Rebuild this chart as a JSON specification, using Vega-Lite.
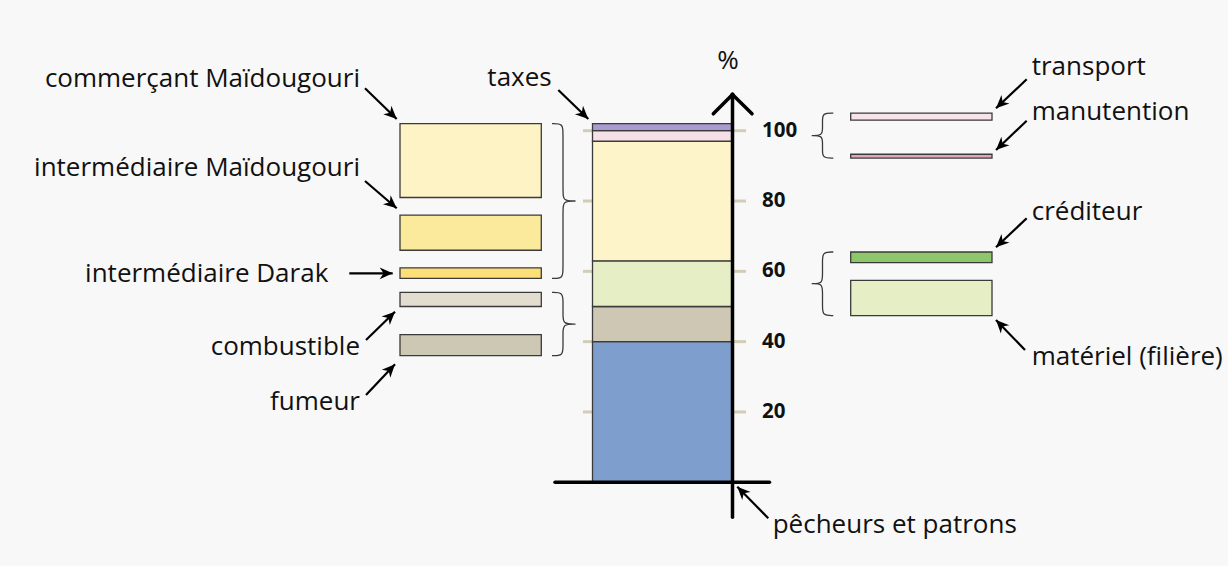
{
  "$schema": "https://vega.github.io/schema/vega-lite/v6.json",
  "width": 1228,
  "height": 566,
  "autosize": {"type": "fit", "contains": "padding"},
  "padding": 0,
  "background": "#f8f8f8",
  "config": {"view": {"stroke": null}},
  "datasets": {
    "blocs": [
      {"poste": "pêcheurs et patrons", "cat": "pêcheurs", "x0": 592.5, "x1": 732.5, "bas": 0, "haut": 40},
      {"poste": "fumeur + combustible", "cat": "transformation", "x0": 592.5, "x1": 732.5, "bas": 40, "haut": 50},
      {"poste": "matériel + créditeur", "cat": "filière", "x0": 592.5, "x1": 732.5, "bas": 50, "haut": 63},
      {"poste": "commerce", "cat": "commerce", "x0": 592.5, "x1": 732.5, "bas": 63, "haut": 97},
      {"poste": "transport + manutention", "cat": "acheminement", "x0": 592.5, "x1": 732.5, "bas": 97, "haut": 100},
      {"poste": "taxes", "cat": "taxes", "x0": 592.5, "x1": 732.5, "bas": 100, "haut": 102},
      {"poste": "commerçant Maïdougouri", "cat": "commerçant Maïdougouri", "x0": 400, "x1": 541.3, "bas": 81, "haut": 102},
      {"poste": "intermédiaire Maïdougouri", "cat": "intermédiaire Maïdougouri", "x0": 400, "x1": 541.3, "bas": 66, "haut": 76},
      {"poste": "intermédiaire Darak", "cat": "intermédiaire Darak", "x0": 400, "x1": 541.3, "bas": 58, "haut": 61},
      {"poste": "combustible", "cat": "combustible", "x0": 400, "x1": 541.3, "bas": 50, "haut": 54},
      {"poste": "fumeur", "cat": "fumeur", "x0": 400, "x1": 541.3, "bas": 36, "haut": 42},
      {"poste": "transport", "cat": "transport", "x0": 850.7, "x1": 992, "bas": 103, "haut": 105},
      {"poste": "manutention", "cat": "manutention", "x0": 850.7, "x1": 992, "bas": 92.2, "haut": 93.3},
      {"poste": "créditeur", "cat": "créditeur", "x0": 850.7, "x1": 992, "bas": 62.5, "haut": 65.5},
      {"poste": "matériel (filière)", "cat": "matériel", "x0": 850.7, "x1": 992, "bas": 47.4, "haut": 57.4}
    ],
    "graduations": [{"v": 20}, {"v": 40}, {"v": 60}, {"v": 80}, {"v": 100}],
    "axes": [
      {"x": 732.5, "y": -9.95, "x2": 732.5, "y2": 110.35},
      {"x": 555, "y": 0, "x2": 769.5, "y2": 0},
      {"x": 713.3, "y": 104.8, "x2": 732.8, "y2": 110.35},
      {"x": 752, "y": 104.8, "x2": 732.2, "y2": 110.35}
    ],
    "fleches": [
      {"cible": "commerçant Maïdougouri", "x": 365, "y": 112.06, "x2": 396.7, "y2": 103.33},
      {"cible": "intermédiaire Maïdougouri", "x": 365, "y": 85.69, "x2": 396.7, "y2": 77.93},
      {"cible": "intermédiaire Darak", "x": 349.3, "y": 59.44, "x2": 392.7, "y2": 59.44},
      {"cible": "combustible", "x": 366, "y": 40.47, "x2": 395, "y2": 48.52},
      {"cible": "fumeur", "x": 366, "y": 24.83, "x2": 395, "y2": 33.56},
      {"cible": "taxes", "x": 558.3, "y": 111.58, "x2": 588.3, "y2": 103.33},
      {"cible": "pêcheurs et patrons", "x": 768.3, "y": -10.24, "x2": 737.3, "y2": -1.25},
      {"cible": "transport", "x": 1026.7, "y": 114.62, "x2": 996, "y2": 106.37},
      {"cible": "manutention", "x": 1026.7, "y": 102.84, "x2": 996, "y2": 94.51},
      {"cible": "créditeur", "x": 1026.7, "y": 75.09, "x2": 996, "y2": 66.84},
      {"cible": "matériel (filière)", "x": 1025, "y": 37.63, "x2": 996, "y2": 46.16}
    ],
    "etiquettes": [
      {"texte": "commerçant Maïdougouri", "x": 360, "y": 112.51, "cote": "g"},
      {"texte": "intermédiaire Maïdougouri", "x": 360, "y": 87.12, "cote": "g"},
      {"texte": "intermédiaire Darak", "x": 328.3, "y": 57.05, "cote": "g"},
      {"texte": "combustible", "x": 360, "y": 36.21, "cote": "g"},
      {"texte": "fumeur", "x": 360, "y": 20.56, "cote": "g"},
      {"texte": "taxes", "x": 551.7, "y": 112.8, "cote": "g"},
      {"texte": "%", "x": 728, "y": 117.46, "cote": "c"},
      {"texte": "pêcheurs et patrons", "x": 772.7, "y": -14.33, "cote": "d"},
      {"texte": "transport", "x": 1031.7, "y": 115.84, "cote": "d"},
      {"texte": "manutention", "x": 1031.7, "y": 103.04, "cote": "d"},
      {"texte": "créditeur", "x": 1031.7, "y": 74.6, "cote": "d"},
      {"texte": "matériel (filière)", "x": 1031.7, "y": 33.36, "cote": "d"}
    ],
    "accolades": [
      {"id": "gA", "i": 0, "x": 552, "y": 102}, {"id": "gA", "i": 1, "x": 563, "y": 102}, {"id": "gA", "i": 2, "x": 563, "y": 99.5},
      {"id": "gA", "i": 3, "x": 563, "y": 82.5}, {"id": "gA", "i": 4, "x": 563, "y": 80}, {"id": "gA", "i": 5, "x": 575.5, "y": 80},
      {"id": "gA", "i": 6, "x": 575.5, "y": 80}, {"id": "gA", "i": 7, "x": 575.5, "y": 80}, {"id": "gA", "i": 8, "x": 563, "y": 80},
      {"id": "gA", "i": 9, "x": 563, "y": 77.5}, {"id": "gA", "i": 10, "x": 563, "y": 60.5}, {"id": "gA", "i": 11, "x": 563, "y": 58},
      {"id": "gA", "i": 12, "x": 552, "y": 58},
      {"id": "gB", "i": 0, "x": 552, "y": 54}, {"id": "gB", "i": 1, "x": 563, "y": 54}, {"id": "gB", "i": 2, "x": 563, "y": 51.5},
      {"id": "gB", "i": 3, "x": 563, "y": 47.5}, {"id": "gB", "i": 4, "x": 563, "y": 45}, {"id": "gB", "i": 5, "x": 575.5, "y": 45},
      {"id": "gB", "i": 6, "x": 575.5, "y": 45}, {"id": "gB", "i": 7, "x": 575.5, "y": 45}, {"id": "gB", "i": 8, "x": 563, "y": 45},
      {"id": "gB", "i": 9, "x": 563, "y": 42.5}, {"id": "gB", "i": 10, "x": 563, "y": 38.5}, {"id": "gB", "i": 11, "x": 563, "y": 36},
      {"id": "gB", "i": 12, "x": 552, "y": 36},
      {"id": "dA", "i": 0, "x": 833.3, "y": 105}, {"id": "dA", "i": 1, "x": 822.5, "y": 105}, {"id": "dA", "i": 2, "x": 822.5, "y": 102.8},
      {"id": "dA", "i": 3, "x": 822.5, "y": 100.8}, {"id": "dA", "i": 4, "x": 822.5, "y": 98.6}, {"id": "dA", "i": 5, "x": 811.7, "y": 98.6},
      {"id": "dA", "i": 6, "x": 811.7, "y": 98.6}, {"id": "dA", "i": 7, "x": 811.7, "y": 98.6}, {"id": "dA", "i": 8, "x": 822.5, "y": 98.6},
      {"id": "dA", "i": 9, "x": 822.5, "y": 96.4}, {"id": "dA", "i": 10, "x": 822.5, "y": 94.4}, {"id": "dA", "i": 11, "x": 822.5, "y": 92.2},
      {"id": "dA", "i": 12, "x": 833.3, "y": 92.2},
      {"id": "dB", "i": 0, "x": 833.3, "y": 65.5}, {"id": "dB", "i": 1, "x": 822.5, "y": 65.5}, {"id": "dB", "i": 2, "x": 822.5, "y": 63},
      {"id": "dB", "i": 3, "x": 822.5, "y": 59}, {"id": "dB", "i": 4, "x": 822.5, "y": 56.5}, {"id": "dB", "i": 5, "x": 811.7, "y": 56.5},
      {"id": "dB", "i": 6, "x": 811.7, "y": 56.5}, {"id": "dB", "i": 7, "x": 811.7, "y": 56.5}, {"id": "dB", "i": 8, "x": 822.5, "y": 56.5},
      {"id": "dB", "i": 9, "x": 822.5, "y": 54}, {"id": "dB", "i": 10, "x": 822.5, "y": 50}, {"id": "dB", "i": 11, "x": 822.5, "y": 47.4},
      {"id": "dB", "i": 12, "x": 833.3, "y": 47.4}
    ]
  },
  "layer": [
    {
      "data": {"name": "accolades"},
      "mark": {"type": "line", "interpolate": "basis", "color": "#3a3a3a", "strokeWidth": 1.3},
      "encoding": {
        "x": {"field": "x", "type": "quantitative", "scale": {"domain": [0, 1228], "nice": false, "zero": false}, "axis": null},
        "y": {"field": "y", "type": "quantitative", "scale": {"domain": [-23.81, 137.17], "nice": false, "zero": false}, "axis": null},
        "detail": {"field": "id"},
        "order": {"field": "i", "type": "quantitative"}
      }
    },
    {
      "data": {"name": "graduations"},
      "mark": {"type": "rule", "color": "#d3cdb5", "strokeWidth": 3},
      "encoding": {
        "x": {"datum": 583, "type": "quantitative", "scale": {"domain": [0, 1228], "nice": false, "zero": false}, "axis": null},
        "x2": {"datum": 592},
        "y": {"field": "v", "type": "quantitative", "scale": {"domain": [-23.81, 137.17], "nice": false, "zero": false}, "axis": null}
      }
    },
    {
      "data": {"name": "graduations"},
      "mark": {"type": "rule", "color": "#d3cdb5", "strokeWidth": 3},
      "encoding": {
        "x": {"datum": 734, "type": "quantitative", "scale": {"domain": [0, 1228], "nice": false, "zero": false}, "axis": null},
        "x2": {"datum": 746},
        "y": {"field": "v", "type": "quantitative", "scale": {"domain": [-23.81, 137.17], "nice": false, "zero": false}, "axis": null}
      }
    },
    {
      "data": {"name": "graduations"},
      "mark": {"type": "text", "align": "left", "baseline": "middle", "font": "Open Sans", "fontWeight": "bold", "fontSize": 20.5, "color": "#111111"},
      "encoding": {
        "x": {"datum": 762, "type": "quantitative", "scale": {"domain": [0, 1228], "nice": false, "zero": false}, "axis": null},
        "y": {"field": "v", "type": "quantitative", "scale": {"domain": [-23.81, 137.17], "nice": false, "zero": false}, "axis": null},
        "text": {"field": "v", "type": "quantitative"}
      }
    },
    {
      "data": {"name": "blocs"},
      "mark": {"type": "rect", "stroke": "#3a3a3a", "strokeWidth": 1.3},
      "encoding": {
        "x": {"field": "x0", "type": "quantitative", "scale": {"domain": [0, 1228], "nice": false, "zero": false}, "axis": null},
        "x2": {"field": "x1"},
        "y": {"field": "bas", "type": "quantitative", "scale": {"domain": [-23.81, 137.17], "nice": false, "zero": false}, "axis": null},
        "y2": {"field": "haut"},
        "fill": {
          "field": "cat", "type": "nominal", "legend": null,
          "scale": {
            "domain": ["pêcheurs", "transformation", "filière", "commerce", "acheminement", "taxes", "commerçant Maïdougouri", "intermédiaire Maïdougouri", "intermédiaire Darak", "combustible", "fumeur", "transport", "manutention", "créditeur", "matériel"],
            "range": ["#7e9fcd", "#cdc7b3", "#e6eec6", "#fdf4c9", "#f6e0e8", "#a99ad0", "#fdf3c5", "#fcea9c", "#fddf78", "#e3ddd0", "#cdc8b3", "#f8e3ea", "#e3a5b5", "#8ec66c", "#e6eec6"]
          }
        }
      }
    },
    {
      "data": {"name": "axes"},
      "mark": {"type": "rule", "color": "#000000", "strokeWidth": 3.5, "strokeCap": "round"},
      "encoding": {
        "x": {"field": "x", "type": "quantitative", "scale": {"domain": [0, 1228], "nice": false, "zero": false}, "axis": null},
        "x2": {"field": "x2"},
        "y": {"field": "y", "type": "quantitative", "scale": {"domain": [-23.81, 137.17], "nice": false, "zero": false}, "axis": null},
        "y2": {"field": "y2"}
      }
    },
    {
      "data": {"name": "fleches"},
      "mark": {"type": "rule", "color": "#000000", "strokeWidth": 2.2},
      "encoding": {
        "x": {"field": "x", "type": "quantitative", "scale": {"domain": [0, 1228], "nice": false, "zero": false}, "axis": null},
        "x2": {"field": "x2"},
        "y": {"field": "y", "type": "quantitative", "scale": {"domain": [-23.81, 137.17], "nice": false, "zero": false}, "axis": null},
        "y2": {"field": "y2"}
      }
    },
    {
      "data": {"name": "fleches"},
      "transform": [
        {"calculate": "atan2(-(datum.y2 - datum.y) * 3.516, datum.x2 - datum.x) * 180 / PI", "as": "angle"}
      ],
      "mark": {"type": "point", "shape": "M0,0 L-1,-0.45 L-0.7,0 L-1,0.45 Z", "filled": true, "color": "#000000", "opacity": 1, "size": 680, "strokeWidth": 0},
      "encoding": {
        "x": {"field": "x2", "type": "quantitative", "scale": {"domain": [0, 1228], "nice": false, "zero": false}, "axis": null},
        "y": {"field": "y2", "type": "quantitative", "scale": {"domain": [-23.81, 137.17], "nice": false, "zero": false}, "axis": null},
        "angle": {"field": "angle", "type": "quantitative", "scale": null}
      }
    },
    {
      "data": {"name": "etiquettes"},
      "transform": [{"filter": "datum.cote === 'g'"}],
      "mark": {"type": "text", "align": "right", "baseline": "alphabetic", "font": "Open Sans", "fontSize": 26, "color": "#111111"},
      "encoding": {
        "x": {"field": "x", "type": "quantitative", "scale": {"domain": [0, 1228], "nice": false, "zero": false}, "axis": null},
        "y": {"field": "y", "type": "quantitative", "scale": {"domain": [-23.81, 137.17], "nice": false, "zero": false}, "axis": null},
        "text": {"field": "texte"}
      }
    },
    {
      "data": {"name": "etiquettes"},
      "transform": [{"filter": "datum.cote === 'd'"}],
      "mark": {"type": "text", "align": "left", "baseline": "alphabetic", "font": "Open Sans", "fontSize": 26, "color": "#111111"},
      "encoding": {
        "x": {"field": "x", "type": "quantitative", "scale": {"domain": [0, 1228], "nice": false, "zero": false}, "axis": null},
        "y": {"field": "y", "type": "quantitative", "scale": {"domain": [-23.81, 137.17], "nice": false, "zero": false}, "axis": null},
        "text": {"field": "texte"}
      }
    },
    {
      "data": {"name": "etiquettes"},
      "transform": [{"filter": "datum.cote === 'c'"}],
      "mark": {"type": "text", "align": "center", "baseline": "alphabetic", "font": "Open Sans", "fontSize": 26, "color": "#111111"},
      "encoding": {
        "x": {"field": "x", "type": "quantitative", "scale": {"domain": [0, 1228], "nice": false, "zero": false}, "axis": null},
        "y": {"field": "y", "type": "quantitative", "scale": {"domain": [-23.81, 137.17], "nice": false, "zero": false}, "axis": null},
        "text": {"field": "texte"}
      }
    }
  ]
}
